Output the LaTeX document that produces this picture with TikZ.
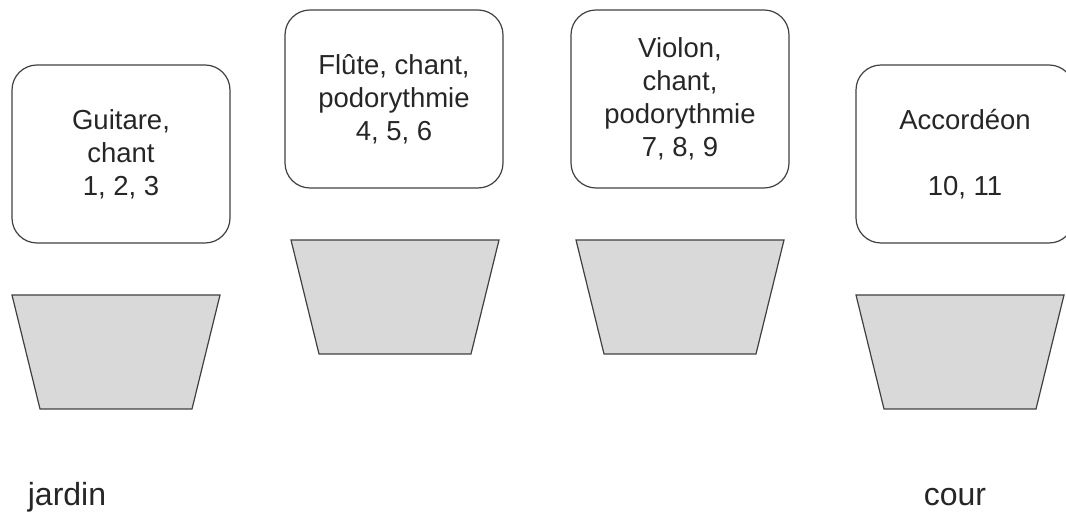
\documentclass[tikz,border=0pt]{standalone}
\usepackage{fontspec}
\setmainfont{Liberation Sans}
\tikzset{
  role/.style={draw=black!75, line width=0.6pt, rounded corners=12.5pt,
    minimum width=109pt, minimum height=89pt, align=center,
    text=black!85, font=\fontsize{13.75}{16.5}\selectfont},
  pupitre/.style={draw=black!75, fill=black!15, line width=0.6pt},
  side/.style={text=black!85, font=\fontsize{16}{19}\selectfont}
}
\begin{document}
\begin{tikzpicture}[x=0.5pt,y=-0.5pt]
	\useasboundingbox (0,0) rectangle (1066,522);
	% musicians
	\node[role] (guitare) at (121,154) {Guitare,\\chant\\1, 2, 3};
	\node[role] (flute) at (394,99) {Fl\^ute, chant,\\podorythmie\\4, 5, 6};
	\node[role] (violon) at (680,99) {Violon,\\chant,\\podorythmie\\7, 8, 9};
	\node[role] (accordeon) at (965,154) {Accordéon\\[16.5pt]10, 11};
	% stands
	\foreach \x/\y in {12/295, 291/240, 576/240, 856/295}
		\draw[pupitre] (\x,\y) -- ++(208,0) -- ++(-28,114) -- ++(-152,0) -- cycle;
	% sides of the stage
	\node[side] (jardin) at (67,497) {jardin};
	\node[side] (cour) at (955,497) {cour};
\end{tikzpicture}
\end{document}
